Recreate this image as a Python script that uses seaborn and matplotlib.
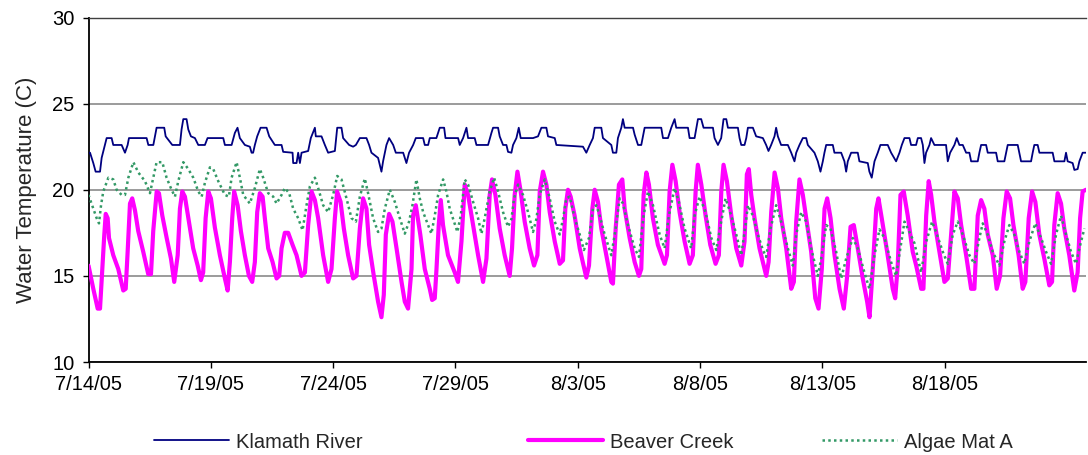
import matplotlib
matplotlib.use("Agg")
import matplotlib.pyplot as plt
import seaborn as sns
import pandas as pd

# ---------------- data (hours since 7/14/05 00:00, water temperature C) ----------------
klamath_hours = [0, 1.5, 4.7, 7.0, 11.3, 12.9, 15.5, 17.8, 22.7, 24.3, 32.5, 35.8, 38.4, 39.7,
                 57.0, 58.7, 63.6, 65.2, 66.8, 74.3, 75.7, 82.2, 89.7, 91.3, 93.0, 96.2, 97.9,
                 100.5, 104.4, 107.7, 114.2, 116.8, 132.2, 133.8, 140.4, 143.6, 146.2, 148.5,
                 153.4, 158.3, 160.0, 161.5, 163.2, 165.5, 168.8, 174.7, 177.3, 182.8, 189.4,
                 191.0, 200.2, 200.8, 204.1, 205.7, 207.4, 209.0, 215.5, 218.1, 222.1, 223.0,
                 228.6, 231.9, 235.1, 241.7, 244.0, 248.2, 249.8, 255.7, 259.6, 262.3, 266.2,
                 272.7, 275.3, 277.6, 284.1, 287.4, 289.0, 292.3, 294.9, 298.9, 301.5, 308.7,
                 311.9, 314.5, 318.5, 321.1, 328.3, 329.9, 333.2, 334.8, 341.3, 344.6, 348.9,
                 350.2, 362.6, 364.2, 367.5, 370.8, 372.4, 378.9, 380.6, 392.0, 395.3, 396.9,
                 401.8, 403.4, 406.7, 410.0, 411.6, 414.9, 416.5, 419.8, 422.1, 424.0, 436.1,
                 441.0, 444.3, 449.2, 450.8, 457.4, 459.0, 485.1, 488.4, 491.7, 494.9, 496.6,
                 503.1, 504.7, 512.9, 514.5, 517.8, 519.4, 522.7, 524.3, 526.0, 534.2, 535.8,
                 539.1, 542.3, 545.6, 561.9, 563.6, 568.5, 571.7, 575.0, 576.6, 588.1, 589.7,
                 594.6, 597.9, 601.1, 603.4, 612.6, 614.2, 617.5, 620.7, 623.0, 625.7, 627.3,
                 637.1, 638.7, 640.4, 643.6, 645.3, 646.9, 651.8, 655.0, 661.6, 664.8, 667.1,
                 669.7, 673.0, 674.6, 676.3, 679.5, 686.1, 689.4, 692.6, 694.3, 697.5, 700.8,
                 704.1, 705.7, 712.2, 715.5, 718.1, 720.4, 722.0, 723.7, 730.2, 731.8, 738.4,
                 741.6, 743.3, 744.9, 748.2, 754.7, 756.3, 764.5, 766.1, 768.4, 771.1, 774.3,
                 776.9, 784.1, 787.4, 792.3, 795.6, 797.9, 800.5, 805.4, 807.0, 811.9, 813.6,
                 816.8, 818.5, 820.1, 821.7, 825.0, 826.6, 829.9, 841.3, 843.0, 845.3, 849.5,
                 851.8, 854.4, 857.7, 861.0, 864.2, 865.9, 872.4, 874.0, 875.7, 880.6, 882.2,
                 890.4, 892.0, 898.5, 900.2, 901.8, 911.6, 913.2, 914.9, 924.7, 926.3, 927.9,
                 931.2, 932.9, 945.9, 947.6, 957.4, 959.0, 960.6, 965.5, 967.2, 970.4, 972.1,
                 975.3, 978.6]
klamath_temp = [22.15, 22.15, 21.55, 21.05, 21.05, 21.85, 22.45, 23.0, 23.0, 22.6, 22.6, 22.15, 22.6, 23.0,
                23.0, 22.6, 22.6, 23.1, 23.6, 23.6, 23.1, 22.6, 22.6, 23.5, 24.1, 24.1, 23.5,
                23.1, 23.0, 22.6, 22.6, 23.0, 23.0, 22.6, 22.6, 23.3, 23.6, 23.0,
                22.6, 22.5, 22.15, 22.15, 22.6, 23.1, 23.6, 23.6, 23.1, 22.6, 22.6,
                22.2, 22.15, 21.55, 21.55, 22.15, 21.55, 22.15, 22.25, 23.0, 23.6, 23.1,
                23.1, 22.6, 22.15, 22.25, 23.6, 23.6, 23.0, 22.6, 22.5, 22.6, 23.0,
                23.0, 22.6, 22.15, 21.85, 21.05, 21.65, 22.6, 23.0, 22.6, 22.15, 22.15,
                21.55, 22.15, 22.6, 23.0, 23.0, 22.6, 22.6, 23.0, 23.0, 23.6, 23.6,
                23.0, 23.0, 22.6, 23.0, 23.6, 23.0, 23.0, 22.6, 22.6, 23.3, 23.6,
                23.6, 23.1, 22.6, 22.6, 22.2, 22.15, 22.6, 23.0, 23.6, 23.0, 23.0,
                23.1, 23.6, 23.6, 23.1, 23.0, 22.6, 22.5, 22.15, 22.6, 23.0, 23.6,
                23.6, 23.0, 22.6, 22.15, 22.15, 23.0, 23.6, 24.1, 23.6, 23.6, 23.2,
                22.6, 22.6, 23.6, 23.6, 23.0, 23.0, 23.6, 24.1, 23.6, 23.6, 23.0,
                23.0, 24.1, 24.1, 23.6, 23.6, 23.0, 22.6, 23.0, 24.1, 24.1, 23.6,
                23.6, 23.0, 22.6, 22.6, 23.0, 23.6, 23.6, 23.1, 23.0, 22.6, 22.25,
                22.6, 23.1, 23.6, 23.1, 22.6, 22.6, 22.15, 21.65, 22.15, 22.6, 23.0,
                23.0, 22.6, 22.15, 21.65, 21.05, 21.65, 22.15, 22.6, 22.6, 22.15, 22.15,
                21.65, 21.05, 21.65, 22.15, 22.15, 21.65, 21.55, 21.05, 20.7, 21.65, 22.15,
                22.6, 22.6, 22.15, 21.65, 22.15, 22.6, 23.0, 23.0, 22.6, 22.6, 23.0,
                23.0, 22.6, 21.55, 22.15, 22.6, 23.0, 22.6, 22.6, 21.65, 22.15, 22.6,
                23.0, 22.6, 22.6, 22.15, 22.15, 21.65, 21.65, 22.15, 22.6, 22.6, 22.15,
                22.15, 21.65, 21.65, 22.15, 22.6, 22.6, 22.15, 21.65, 21.65, 22.15, 22.6,
                22.6, 22.15, 22.15, 21.65, 21.65, 22.15, 21.65, 21.55, 21.15, 21.2, 21.65,
                22.15, 22.15]

beaver_hours = [0, 4.7, 9.0, 11.3, 13.5, 15.5, 16.9, 18.8, 20.1, 24.3, 29.2, 34.1, 36.5, 38.4,
                40.7, 42.9, 45.6, 48.8, 53.7, 58.6, 61.3, 63.5, 66.9, 69.1, 72.4, 76.7, 80.9,
                84.1, 87.5, 89.7, 92.0, 94.6, 98.5, 102.7, 107.1, 110.3, 112.5, 114.9, 117.5,
                120.1, 124.0, 128.9, 133.8, 136.5, 138.7, 141.0, 142.9, 146.3, 149.5, 153.4,
                157.4, 160.6, 163.2, 165.5, 168.1, 170.8, 173.0, 176.3, 180.6, 184.5, 187.1,
                189.4, 192.6, 195.9, 200.2, 204.1, 209.0, 212.3, 215.5, 218.8, 222.1, 225.3,
                230.2, 235.1, 238.4, 241.7, 243.9, 247.3, 250.5, 254.7, 259.6, 262.9, 266.2,
                269.4, 272.7, 275.3, 279.9, 284.1, 287.4, 289.7, 291.7, 294.9, 298.2, 302.2,
                307.1, 310.3, 313.5, 316.9, 318.4, 321.1, 325.5, 329.9, 334.8, 337.1, 339.7,
                341.4, 343.6, 345.6, 347.8, 352.7, 359.3, 362.5, 365.9, 369.1, 372.4, 377.3,
                382.2, 387.1, 390.4, 393.6, 395.9, 399.2, 403.4, 408.3, 413.2, 415.5, 418.1,
                420.8, 424.0, 427.9, 432.8, 437.1, 440.4, 442.7, 445.9, 449.2, 452.5, 457.4,
                462.3, 465.5, 467.8, 470.4, 473.0, 476.9, 481.9, 484.9, 488.4, 491.0, 494.3,
                496.6, 499.8, 503.1, 508.0, 512.9, 514.5, 517.2, 520.4, 523.7, 526.0, 530.9,
                535.8, 540.0, 542.3, 544.6, 547.3, 549.8, 553.7, 558.6, 565.2, 567.5, 570.1,
                572.8, 576.0, 579.9, 584.8, 589.7, 592.9, 595.6, 597.8, 601.2, 605.4, 610.0,
                615.2, 618.4, 620.8, 623.0, 626.3, 630.6, 635.5, 640.4, 643.6, 645.9, 647.8,
                650.2, 653.4, 658.3, 664.9, 667.2, 669.8, 673.1, 676.3, 679.6, 684.5, 689.4,
                692.0, 694.3, 697.5, 700.8, 704.1, 709.0, 713.0, 716.2, 719.4, 722.1, 724.7,
                728.0, 731.9, 736.8, 741.0, 744.3, 747.6, 750.8, 754.7, 759.6, 763.9, 766.2,
                769.4, 772.8, 775.0, 778.2, 783.5, 789.0, 791.4, 793.9, 796.6, 799.8, 803.7,
                808.6, 812.0, 816.9, 819.1, 821.8, 824.3, 826.7, 829.9, 834.8, 839.7, 843.0,
                846.3, 849.5, 852.8, 856.1, 861.0, 865.9, 869.1, 872.4, 875.7, 878.9, 882.2,
                887.1, 891.0, 894.3, 897.6, 900.8, 904.1, 907.4, 912.5, 916.5, 919.1, 922.4,
                925.7, 928.9, 932.8, 937.7, 942.6, 945.3, 947.5, 950.8, 954.1, 957.3, 962.2,
                967.1, 970.4, 972.8, 975.3, 978.6]
beaver_temp = [15.6, 14.25, 13.1, 13.1, 15.4, 17.4, 18.6, 18.35, 17.2, 16.2, 15.4, 14.15, 14.25, 16.4,
               19.2, 19.5, 18.8, 17.6, 16.4, 15.1, 15.1, 17.6, 19.9, 19.8, 18.5, 17.2, 16.0,
               14.65, 16.2, 18.9, 19.9, 19.6, 18.15, 16.6, 15.6, 14.75, 15.2, 18.35, 19.9,
               19.5, 17.8, 16.2, 14.85, 14.15, 15.8, 18.35, 19.9, 19.1, 17.6, 16.2,
               15.0, 14.65, 15.8, 18.7, 19.8, 19.6, 18.35, 16.6, 15.8, 14.85, 15.0,
               16.6, 17.5, 17.5, 16.8, 16.2, 15.0, 15.2, 17.95, 19.9, 19.4, 18.35,
               16.2, 14.65, 15.4, 18.35, 19.9, 19.3, 17.75, 16.2, 14.85, 15.0, 17.75,
               19.5, 18.9, 16.8, 15.0, 13.5, 12.6, 13.9, 17.4, 18.6, 18.15, 16.6,
               14.65, 13.5, 13.1, 15.4, 18.5, 19.1, 17.4, 15.4, 14.25, 13.6, 13.7,
               15.4, 17.95, 19.4, 17.95, 16.2, 15.2, 14.65, 17.0, 20.3, 19.7, 17.95,
               16.2, 14.65, 16.0, 19.7, 20.6, 19.7, 17.75, 16.2, 15.0, 16.6, 19.7,
               21.05, 19.9, 18.15, 16.6, 15.6, 16.2, 19.9, 21.05, 20.3, 18.7, 17.0,
               15.7, 15.9, 18.9, 20.0, 19.6, 18.5, 16.6, 15.8, 14.9, 15.6, 18.9,
               20.0, 19.3, 17.75, 16.2, 14.65, 14.55, 17.75, 20.3, 20.6, 18.9, 17.2,
               15.8, 15.0, 15.4, 19.7, 21.0, 20.3, 18.35, 16.8, 15.7, 16.2, 19.9,
               21.45, 20.5, 18.7, 17.0, 15.7, 16.2, 19.9, 21.45, 20.3, 18.5, 16.8,
               15.7, 16.2, 19.9, 21.45, 20.5, 18.5, 16.6, 15.6, 17.0, 20.9, 21.2,
               19.7, 18.35, 16.6, 15.0, 15.8, 18.7, 21.0, 20.1, 18.35, 16.6, 14.25,
               14.65, 18.15, 20.6, 19.7, 18.35, 16.4, 13.7, 13.1, 15.4, 18.9, 19.5,
               18.35, 16.2, 14.25, 13.1, 15.0, 17.85, 17.95, 16.6, 14.85, 13.5, 12.6,
               15.4, 18.9, 19.5, 18.35, 16.4, 14.25, 13.7, 15.6, 19.7, 19.9, 18.5,
               16.4, 15.6, 14.25, 14.25, 18.5, 20.5, 19.7, 18.15, 16.4, 14.65, 14.85,
               17.4, 19.9, 19.5, 17.95, 16.2, 14.25, 14.25, 18.5, 19.4, 18.9, 17.4,
               16.2, 14.25, 15.0, 18.35, 19.9, 19.5, 17.95, 16.2, 14.25, 14.65, 18.35,
               19.9, 19.3, 17.4, 16.0, 14.45, 14.65, 17.95, 19.8, 19.2, 17.75, 16.2,
               14.15, 15.2, 18.35, 19.9, 20.0]

algae_hours = [0, 4.7, 8.0, 10.3, 12.3, 14.5, 19.5, 24.3, 27.6, 32.5, 35.8, 39.1, 44.0, 48.9,
               55.4, 60.3, 63.6, 66.8, 72.4, 76.6, 81.5, 84.8, 88.1, 93.0, 97.9, 102.8, 107.7,
               111.0, 114.2, 119.1, 122.4, 127.3, 133.8, 137.7, 140.4, 145.3, 148.5, 151.8,
               158.3, 163.2, 168.1, 171.4, 176.3, 181.2, 184.5, 189.4, 192.6, 196.9, 200.8,
               205.7, 210.0, 213.9, 217.2, 222.1, 225.3, 230.2, 235.1, 240.0, 244.0, 248.2,
               253.1, 258.0, 262.3, 266.2, 271.1, 274.3, 279.2, 284.1, 287.4, 290.7, 295.6,
               300.5, 305.4, 310.3, 314.5, 317.8, 321.7, 325.0, 328.3, 333.2, 336.4, 339.7,
               343.0, 347.9, 351.1, 354.4, 357.7, 361.9, 365.2, 369.1, 372.4, 377.3, 382.2,
               385.5, 388.7, 393.6, 397.9, 401.8, 406.7, 411.6, 414.9, 417.5, 421.4, 426.3,
               431.2, 436.1, 439.4, 442.6, 447.6, 452.5, 457.4, 462.3, 465.5, 468.8, 472.1,
               477.0, 481.9, 486.0, 491.0, 494.9, 498.2, 501.5, 506.4, 512.9, 517.2, 521.1,
               524.3, 529.3, 535.8, 540.0, 544.6, 548.9, 553.8, 560.3, 565.2, 569.4, 575.0,
               579.2, 584.8, 591.3, 594.6, 599.5, 605.4, 611.0, 615.9, 620.7, 625.0, 630.6,
               635.5, 640.4, 644.6, 646.9, 651.8, 656.7, 661.6, 664.8, 669.1, 674.6, 679.5,
               686.1, 691.0, 694.3, 699.2, 704.1, 709.0, 715.5, 718.8, 723.7, 727.9, 733.5,
               738.4, 743.3, 749.8, 754.7, 761.2, 766.1, 771.1, 776.0, 780.9, 787.4, 792.3,
               796.5, 800.5, 805.4, 810.3, 816.8, 821.7, 827.6, 831.5, 838.1, 843.0, 847.9,
               852.8, 857.7, 864.2, 869.1, 874.0, 877.3, 882.2, 887.1, 893.6, 898.5, 903.4,
               908.3, 913.2, 918.1, 923.0, 928.9, 934.5, 939.4, 944.3, 949.2, 954.1, 959.0,
               963.9, 968.8, 972.1, 977.0]
algae_temp = [19.7, 18.9, 18.35, 18.05, 19.1, 19.9, 20.7, 20.6, 20.0, 19.7, 19.7, 20.7, 21.6, 21.0,
              20.5, 19.8, 20.7, 21.6, 21.6, 20.7, 20.0, 19.6, 20.5, 21.6, 21.2, 20.7, 19.9,
              19.6, 20.4, 21.3, 21.2, 20.5, 19.7, 19.6, 20.7, 21.6, 20.7, 19.7,
              19.2, 20.1, 21.2, 20.7, 19.8, 19.6, 19.2, 19.7, 20.1, 19.8, 18.9,
              18.35, 17.65, 19.1, 20.2, 20.7, 20.1, 19.1, 18.7, 19.7, 20.8, 20.6,
              19.5, 18.35, 18.15, 19.6, 20.65, 19.8, 18.35, 17.55, 17.75, 18.9, 20.0,
              19.3, 18.35, 17.45, 18.15, 19.1, 20.6, 19.5, 18.7, 17.95, 17.45, 18.5,
              19.7, 20.6, 19.9, 18.9, 18.3, 17.55, 18.5, 20.6, 20.3, 19.3, 18.35,
              17.45, 18.35, 19.9, 20.7, 19.9, 18.7, 17.85, 18.3, 19.5, 20.3, 19.7,
              18.7, 17.55, 18.3, 19.7, 20.6, 19.5, 18.15, 17.4, 18.3, 19.5, 19.6,
              18.35, 17.4, 16.5, 17.2, 18.9, 19.1, 18.5, 17.4, 16.2, 17.75, 19.5,
              19.2, 17.95, 16.6, 16.1, 18.5, 19.9, 19.1, 17.4, 16.6, 18.5, 20.1,
              19.3, 17.75, 16.6, 18.5, 19.6, 18.7, 17.2, 16.5, 18.15, 19.5, 18.5,
              17.4, 16.2, 17.95, 19.1, 18.5, 17.4, 16.5, 16.1, 17.75, 19.1, 18.15,
              16.6, 15.6, 17.4, 18.7, 18.15, 16.6, 15.0, 16.0, 17.95, 17.75, 16.4,
              14.85, 16.0, 17.2, 16.6, 15.2, 14.25, 16.2, 17.7, 17.2, 15.8, 15.0,
              16.6, 18.15, 17.55, 16.9, 15.2, 16.95, 18.15, 17.55, 16.4, 15.7, 17.4,
              18.15, 17.4, 16.2, 15.7, 17.2, 18.05, 17.4, 16.4, 15.6, 17.0, 17.95,
              17.4, 16.4, 15.7, 17.0, 18.05, 17.2, 16.4, 15.7, 17.4, 18.5, 17.4,
              16.4, 15.7, 16.6, 17.75]

series_names = ["Klamath River", "Beaver Creek", "Algae Mat A"]
tick_hours = [0, 120, 240, 360, 480, 600, 720, 840]
tick_labels = ["7/14/05", "7/19/05", "7/24/05", "7/29/05", "8/3/05", "8/8/05", "8/13/05", "8/18/05"]
y_ticks = [10, 15, 20, 25, 30]

# ---------------- styling ----------------
sns.set_style("white")
plt.rcParams["font.family"] = ["Liberation Sans", "DejaVu Sans"]

W, H = 1088, 455
fig = plt.figure(figsize=(W / 100, H / 100), dpi=100)
ax = fig.add_axes([88.5 / W, 1 - 362 / H, (1086 - 88.5) / W, (362 - 17.5) / H])

df_k = pd.DataFrame({"hours": klamath_hours, "temp": klamath_temp})
df_b = pd.DataFrame({"hours": beaver_hours, "temp": beaver_temp})
df_a = pd.DataFrame({"hours": algae_hours, "temp": algae_temp})

sns.lineplot(data=df_k, x="hours", y="temp", ax=ax, color="#000080", linewidth=1.3,
             estimator=None, sort=False, label=series_names[0], zorder=3)
sns.lineplot(data=df_b, x="hours", y="temp", ax=ax, color="#FF00FF", linewidth=3.0,
             estimator=None, sort=False, label=series_names[1], zorder=4)
sns.lineplot(data=df_a, x="hours", y="temp", ax=ax, color="#339966", linewidth=1.8,
             linestyle=(0, (1, 1.3)), estimator=None, sort=False, label=series_names[2], zorder=5)

ax.set_xlim(0, 978.6)
ax.set_ylim(10, 30)
ax.set_yticks(y_ticks)
ax.set_xticks(tick_hours)
ax.set_xticklabels(tick_labels)
ax.set_xlabel("")
ax.set_ylabel("Water Temperature (C)", fontsize=16, labelpad=11)

ax.yaxis.grid(True, color="#808080", linewidth=1.1)
ax.xaxis.grid(False)
ax.set_axisbelow(True)

ax.spines["right"].set_visible(False)
ax.spines["top"].set_color("#404040")
ax.spines["top"].set_linewidth(1.0)
ax.spines["left"].set_color("black")
ax.spines["left"].set_linewidth(1.3)
ax.spines["bottom"].set_color("black")
ax.spines["bottom"].set_linewidth(1.3)

ax.tick_params(axis="both", which="major", labelsize=14.5, colors="black",
               direction="out", length=4, width=1.0, left=True, bottom=True)
ax.tick_params(axis="y", pad=6)
ax.tick_params(axis="x", pad=5)

handles, labels = ax.get_legend_handles_labels()
if ax.get_legend() is not None:
    ax.get_legend().remove()

leg_x = [154, 528, 822]
for hnd, lab, xs in zip(handles, labels, leg_x):
    fig.legend(handles=[hnd], labels=[lab], loc="center left",
               bbox_to_anchor=(xs / W, 1 - 442 / H), frameon=False,
               borderpad=0, borderaxespad=0, handlelength=3.7, handletextpad=0.35,
               fontsize=14.5)

fig.savefig("out.png", dpi=100)
